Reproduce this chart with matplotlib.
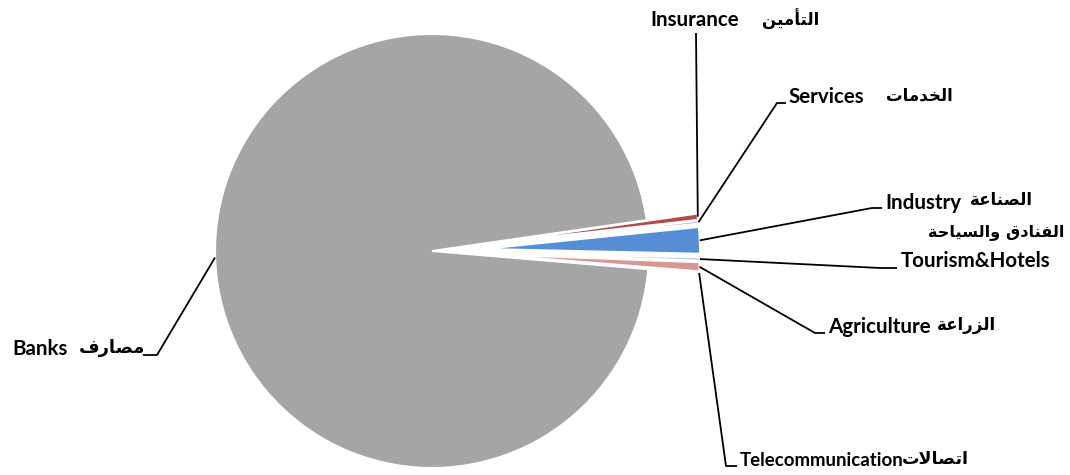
import numpy as np
import matplotlib
matplotlib.use('Agg')
import matplotlib.pyplot as plt

# Sector shares (percent of total), counter-clockwise from the bottom small wedge
sectors = ['Telecommunication', 'Agriculture', 'Tourism&Hotels', 'Industry',
           'Services', 'Insurance', 'Banks']
sectors_ar = ['اتصالات', 'الزراعة', 'الفنادق والسياحة', 'الصناعة',
              'الخدمات', 'التأمين', 'مصارف']
shares = [0.06, 0.67, 0.25, 1.97, 0.19, 0.47, 96.39]
colors = ['#4BACC6', '#D99694', '#B9CDE5', '#558ED5', '#8064A2', '#B04B49', '#A5A5A5']

# --- minimal Arabic shaping (matplotlib has no bidi/shaping) ---
FORMS = {
    'ا': ('\uFE8D', '\uFE8E'), 'أ': ('\uFE83', '\uFE84'),
    'د': ('\uFEA9', '\uFEAA'), 'ر': ('\uFEAD', '\uFEAE'),
    'ز': ('\uFEAF', '\uFEB0'), 'و': ('\uFEED', '\uFEEE'),
    'ة': ('\uFE93', '\uFE94'), '\uFEFB': ('\uFEFB', '\uFEFC'),
    'ت': ('\uFE95', '\uFE96', '\uFE97', '\uFE98'),
    'ح': ('\uFEA1', '\uFEA2', '\uFEA3', '\uFEA4'),
    'خ': ('\uFEA5', '\uFEA6', '\uFEA7', '\uFEA8'),
    'س': ('\uFEB1', '\uFEB2', '\uFEB3', '\uFEB4'),
    'ص': ('\uFEB9', '\uFEBA', '\uFEBB', '\uFEBC'),
    'ع': ('\uFEC9', '\uFECA', '\uFECB', '\uFECC'),
    'ف': ('\uFED1', '\uFED2', '\uFED3', '\uFED4'),
    'ق': ('\uFED5', '\uFED6', '\uFED7', '\uFED8'),
    'ل': ('\uFEDD', '\uFEDE', '\uFEDF', '\uFEE0'),
    'م': ('\uFEE1', '\uFEE2', '\uFEE3', '\uFEE4'),
    'ن': ('\uFEE5', '\uFEE6', '\uFEE7', '\uFEE8'),
    'ي': ('\uFEF1', '\uFEF2', '\uFEF3', '\uFEF4'),
}


def shape(s):
    s = s.replace('لا', '\uFEFB')
    out = []
    for i, ch in enumerate(s):
        f = FORMS.get(ch)
        if f is None:
            out.append(ch)
            continue
        prev = s[i - 1] if i > 0 else ''
        nxt = s[i + 1] if i + 1 < len(s) else ''
        p = prev in FORMS and len(FORMS[prev]) == 4
        n = len(f) == 4 and nxt in FORMS
        if p and n:
            out.append(f[3])
        elif p:
            out.append(f[1])
        elif n:
            out.append(f[2])
        else:
            out.append(f[0])
    return ''.join(out[::-1])


W, H = 1070, 475
fig = plt.figure(figsize=(W / 100, H / 100), dpi=100)
ax = fig.add_axes([0, 0, 1, 1])

cx, cy, R = 432, H - 251, 217
# pie explode is in data units here (pixels)
explode = [51] * 6 + [0]
wedges, _ = ax.pie(shares, colors=colors, explode=explode, center=(cx, cy),
                   radius=R, startangle=-4.8, counterclock=True,
                   wedgeprops=dict(edgecolor='white', linewidth=1.5))
ax.set_xlim(0, W)
ax.set_ylim(0, H)
ax.set_aspect('equal')
ax.axis('off')

# label layout in pixels from top-left:
# latin (x, y, size), arabic (x, y, size), leader points after the wedge anchor
layout = {
    'Insurance':         ((650, 20, 14.8), (762, 19, 12), [(696, 33)]),
    'Services':          ((788, 97, 14.8), (886, 96, 12), [(777, 103), (786, 103)]),
    'Industry':          ((885, 203, 14.8), (970, 200, 12), [(872, 208), (882, 208)]),
    'Tourism&Hotels':    ((901, 261, 14.8), (928, 232, 11.6), [(880, 268), (897, 268)]),
    'Agriculture':       ((828, 327, 14.8), (937, 325, 12), [(815, 333), (825, 333)]),
    'Telecommunication': ((740, 460, 13.4), (902, 459, 12.6), [(726, 466), (737, 466)]),
    'Banks':             ((12, 349, 14.8), (79, 348, 12.8), [(157, 355), (143, 355)]),
}

for w, name, ar in zip(wedges, sectors, sectors_ar):
    mid = np.deg2rad((w.theta1 + w.theta2) / 2)
    ax0 = w.center[0] + w.r * np.cos(mid)
    ay0 = w.center[1] + w.r * np.sin(mid)
    (lx, ly, ls), (rx, ry, rs), pts = layout[name]
    xs = [ax0] + [p[0] for p in pts]
    ys = [ay0] + [H - p[1] for p in pts]
    ax.plot(xs, ys, color='black', lw=1.3, solid_capstyle='butt')
    ax.text(lx, H - ly, name, ha='left', va='center', fontsize=ls,
            fontweight='bold', family='Lato')
    ax.text(rx, H - ry, shape(ar), ha='left', va='center', fontsize=rs,
            fontweight='bold', family=['DejaVu Sans'])

fig.savefig('out.png', dpi=100)
